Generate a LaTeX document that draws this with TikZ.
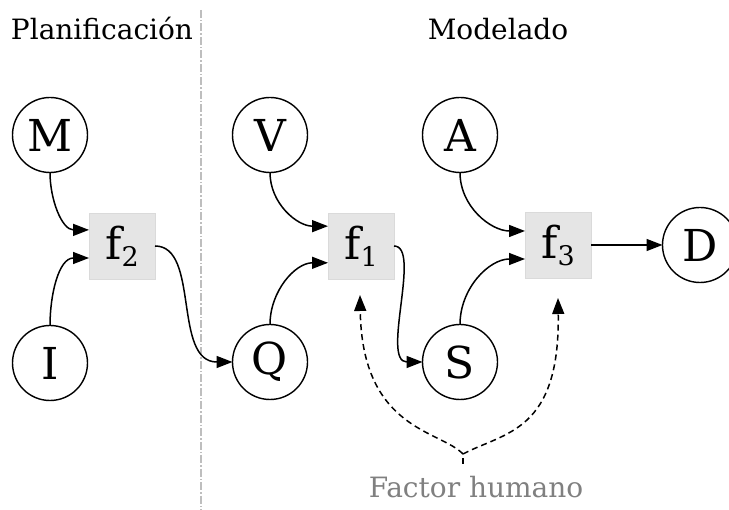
\documentclass[tikz,border=0pt]{standalone}
\usepackage{fontspec}
\setmainfont{DejaVu Serif}
\usetikzlibrary{arrows.meta}
\definecolor{boxgray}{RGB}{229,229,229}
\definecolor{divgray}{RGB}{190,190,190}
\definecolor{labgray}{RGB}{128,128,128}
\tikzset{
  var/.style={circle, draw=black, line width=1.4pt, minimum size=75pt, inner sep=0pt, outer sep=0pt,
    font=\fontsize{44}{44}\selectfont},
  fac/.style={rectangle, fill=boxgray, draw=boxgray!95!black, line width=0.5pt, minimum size=66pt, inner sep=0pt, outer sep=0pt,
    font=\fontsize{44}{44}\selectfont},
  edge/.style={line width=1.5pt, -{Triangle[length=16pt,width=12pt]}},
  hedge/.style={line width=1.5pt, dash pattern=on 6pt off 4pt, -{Triangle[length=16pt,width=12pt]}},
  head/.style={anchor=base, font=\fontsize{28}{28}\selectfont, inner sep=0pt},
}
\newcommand{\fsub}[1]{f\raisebox{-7pt}{\fontsize{27}{27}\selectfont #1}}
\begin{document}
\begin{tikzpicture}[x=1pt,y=1pt]
\useasboundingbox (0,0) rectangle (729,510);
% divider
\coordinate (dtop) at (201,500);
\coordinate (dbot) at (201,0);
\draw[divgray, line width=1.2pt, dash pattern=on 8pt off 2pt on 1.5pt off 2pt] (dtop) -- (dbot);
% headings
\node[head] (plan) at (102,470) {Planificación};
\node[head] (mod) at (498,470) {Modelado};
\node[head, text=labgray] (fh) at (476,12) {Factor humano};
% nodes
\node[var] (M) at (50,375) {M};
\node[var] (I) at (50,147) {I};
\node[fac] (f2) at (122,264) {\fsub{2}};
\node[var] (Q) at (270,148) {Q};
\node[var] (V) at (270,375) {V};
\node[fac] (f1) at (361,264) {\fsub{1}};
\node[var] (S) at (460,148) {S};
\node[var] (A) at (460,375) {A};
\node[fac] (f3) at (558,265) {\fsub{3}};
\node[var] (D) at (700,265) {D};
% edges
\draw[edge] (M.south) to[out=-90,in=180] (f2.154);
\draw[edge] (I.north) to[out=90,in=180] (f2.200);
\draw[edge] (f2.east) .. controls +(45,0) and +(-60,0) .. (Q.west);
\draw[edge] (V.south) to[out=-90,in=180] (f1.149);
\draw[edge] (Q.north) to[out=90,in=180] (f1.207);
\draw[edge] (f1.east) .. controls +(28,0) and +(-42,0) .. (S.west);
\draw[edge] (A.south) to[out=-90,in=180] (f3.157);
\draw[edge] (S.north) to[out=90,in=180] (f3.203);
\draw[edge] (f3.east) -- (D.west);
% human factor
\coordinate (hs) at (463,46);
\coordinate (hb) at (463,56);
\coordinate (h1) at (360,215);
\coordinate (h3) at (558,212);
\draw[line width=1.5pt, dash pattern=on 6pt off 4pt] (hs) -- (hb);
\draw[hedge] (hb) .. controls (440,80) and (362,80) .. (h1);
\draw[hedge] (hb) .. controls (505,78) and (560,78) .. (h3);
\end{tikzpicture}
\end{document}
